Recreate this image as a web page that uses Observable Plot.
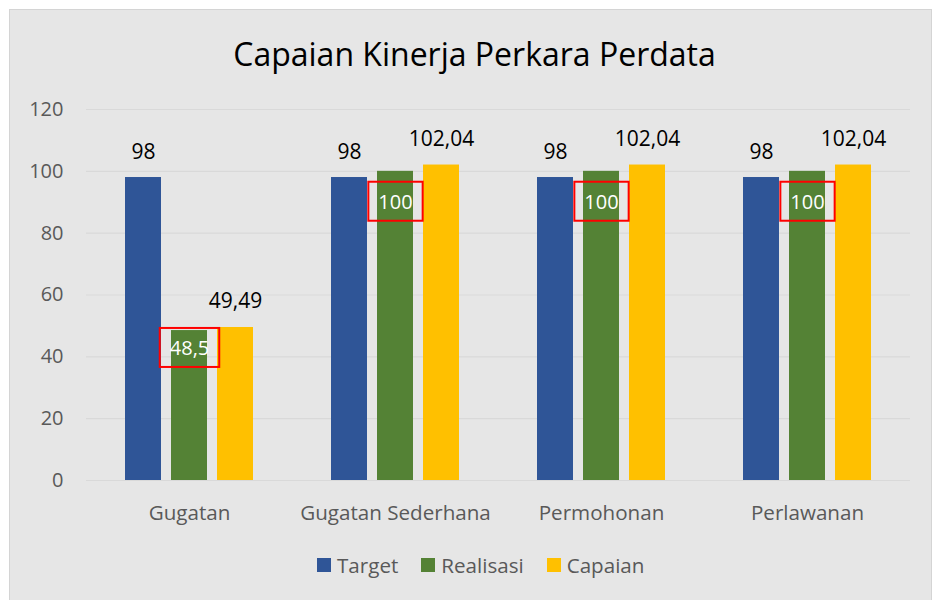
<!DOCTYPE html>
<html>
<head>
<meta charset="utf-8">
<script src="https://cdn.jsdelivr.net/npm/d3@7"></script>
<script src="https://cdn.jsdelivr.net/npm/@observablehq/plot@0.6"></script>
<style>
  body { margin: 0; background: #ffffff; font-family: "Open Sans", sans-serif; }
  #box { position: absolute; left: 9px; top: 9px; width: 923px; height: 600px; background: #e6e6e6; border: 1px solid #d4d4d4; box-sizing: border-box; }
  #title { position: absolute; left: 8px; top: 34px; width: 933px; text-align: center; font-size: 32px; line-height: 40px; color: #000; white-space: nowrap; }
  #chart { position: absolute; left: 0; top: 85px; }
  #legend { position: absolute; left: 317px; top: 553px; display: flex; align-items: center; font-size: 20.6px; line-height: 24px; color: #595959; white-space: nowrap; }
  .item { display: flex; align-items: center; margin-right: 23px; }
  .sw { width: 14px; height: 14px; margin-right: 6px; }
</style>
</head>
<body>
<div id="box"></div>
<div id="title"></div>
<div id="chart"></div>
<div id="legend"></div>
<script>
const chartTitle = "Capaian Kinerja Perkara Perdata";
const categories = ["Gugatan", "Gugatan Sederhana", "Permohonan", "Perlawanan"];
const seriesNames = ["Target", "Realisasi", "Capaian"];
const target = [98, 98, 98, 98];
const realisasi = [48.5, 100, 100, 100];
const capaian = [49.49, 102.04, 102.04, 102.04];
const yTicks = [0, 20, 40, 60, 80, 100, 120];
const seriesColors = ["#2f5597", "#548235", "#ffc000"];

const fmt = v => String(v).replace(".", ",");
const rows = (vals, s) => categories.map((c, i) => ({cat: c, series: s, value: vals[i]}));
const tData = rows(target, "Target");
const rData = rows(realisasi, "Realisasi");
const cData = rows(capaian, "Capaian");

document.getElementById("title").textContent = chartTitle;

const barOpts = {insetLeft: 85, insetRight: 85};
const step = 46;

const svg = Plot.plot({
  width: 933,
  height: 455,
  marginLeft: 86,
  marginRight: 23,
  marginTop: 24,
  marginBottom: 60,
  style: {background: "transparent", fontFamily: "Open Sans", fontSize: "20px", color: "#595959", overflow: "visible"},
  x: {domain: categories, padding: 0, axis: null},
  y: {domain: [0, 120], axis: null},
  color: {domain: seriesNames, range: seriesColors},
  marks: [
    Plot.gridY(yTicks, {stroke: "#d9d9d9", strokeOpacity: 1, strokeWidth: 1.2}),
    Plot.axisY(yTicks, {tickSize: 0, tickPadding: 23, label: null, fill: "#595959", fontSize: 20}),
    Plot.axisX({anchor: "bottom", tickSize: 0, tickPadding: 25, label: null, fill: "#595959", fontSize: 20.6}),
    Plot.barY(tData, {x: "cat", y: "value", fill: "series", dx: -step, ...barOpts}),
    Plot.barY(rData, {x: "cat", y: "value", fill: "series", ...barOpts}),
    Plot.barY(cData, {x: "cat", y: "value", fill: "series", dx: step, ...barOpts}),
    Plot.text(tData, {x: "cat", y: "value", text: d => fmt(d.value), dx: -step, dy: -25, fill: "#000", fontSize: 21}),
    Plot.text(cData, {x: "cat", y: "value", text: d => fmt(d.value), dx: step, dy: -26, fill: "#000", fontSize: 21}),
    Plot.text(rData.filter(d => d.cat === "Gugatan"), {x: "cat", y: "value", text: d => fmt(d.value), dy: 18, fill: "#fff", fontSize: 20, className: "real-label"}),
    Plot.text(rData.filter(d => d.cat !== "Gugatan"), {x: "cat", y: "value", text: d => fmt(d.value), dy: 31, fill: "#fff", fontSize: 20, className: "real-label"})
  ]
});
document.getElementById("chart").appendChild(svg);

// red annotation boxes around the Realisasi labels
const sRect = svg.getBoundingClientRect();
svg.querySelectorAll("g.real-label text").forEach(t => {
  const b = t.getBoundingClientRect();
  const r = document.createElementNS("http://www.w3.org/2000/svg", "rect");
  r.setAttribute("x", b.left - sRect.left - 10);
  r.setAttribute("y", b.top - sRect.top - 6);
  r.setAttribute("width", b.width + 20);
  r.setAttribute("height", b.height + 12);
  r.setAttribute("fill", "none");
  r.setAttribute("stroke", "#ff0000");
  r.setAttribute("stroke-width", 2);
  svg.appendChild(r);
});

const legend = document.getElementById("legend");
seriesNames.forEach((s, i) => {
  const item = document.createElement("div");
  item.className = "item";
  const sw = document.createElement("div");
  sw.className = "sw";
  sw.style.background = seriesColors[i];
  const lab = document.createElement("span");
  lab.textContent = s;
  item.appendChild(sw);
  item.appendChild(lab);
  legend.appendChild(item);
});
</script>
</body>
</html>
